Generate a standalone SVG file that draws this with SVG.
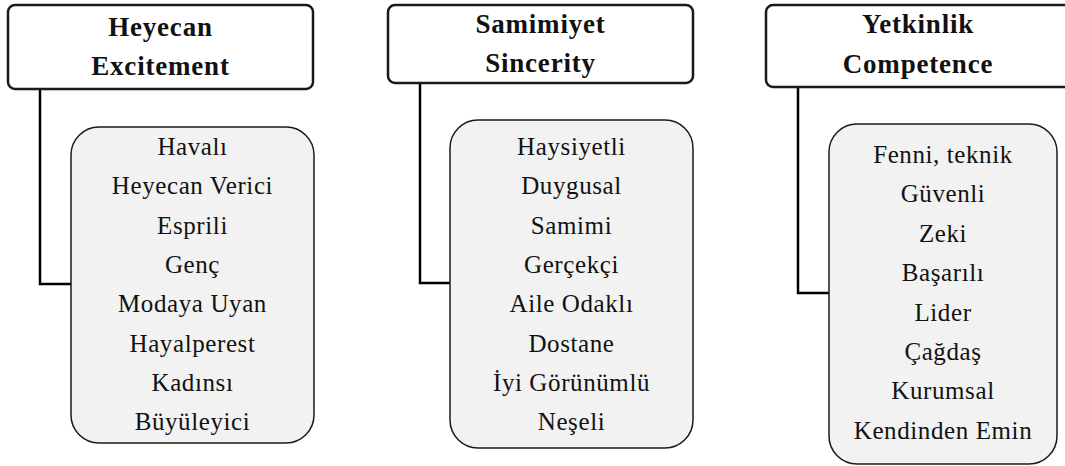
<svg xmlns="http://www.w3.org/2000/svg" width="1065" height="466" viewBox="0 0 1065 466">
<style>
.hdr{fill:#fff;stroke:#1a1a1a;stroke-width:2.5}
.lst{fill:#f2f2f2;stroke:#1a1a1a;stroke-width:1.5}
.conn{fill:none;stroke:#000;stroke-width:2.5}
.ht{font-weight:bold;font-size:27px;fill:#111;text-anchor:middle;letter-spacing:0.8px}
.lt{font-size:25px;fill:#111;text-anchor:middle;letter-spacing:0.6px}
</style>
<rect width="1065" height="466" fill="#fff"/>
<g id="connectors">
<path class="conn" d="M40 89 V284 H71"/>
<path class="conn" d="M420 83 V283 H450"/>
<path class="conn" d="M798 87 V293 H829"/>
</g>
<g font-family="'Liberation Serif', Tinos, 'Times New Roman', 'DejaVu Serif', serif">
<g id="excitement">
<rect class="hdr" x="8" y="5" width="305" height="84" rx="7"/>
<text class="ht" x="160.5" y="36">Heyecan</text>
<text class="ht" x="160.5" y="75">Excitement</text>
</g>
<g id="excitement-list">
<rect class="lst" x="71" y="127" width="243" height="316" rx="28"/>
<text class="lt" x="192.5" y="155">Havalı</text>
<text class="lt" x="192.5" y="194.3">Heyecan Verici</text>
<text class="lt" x="192.5" y="233.6">Esprili</text>
<text class="lt" x="192.5" y="272.9">Genç</text>
<text class="lt" x="192.5" y="312.2">Modaya Uyan</text>
<text class="lt" x="192.5" y="351.5">Hayalperest</text>
<text class="lt" x="192.5" y="390.8">Kadınsı</text>
<text class="lt" x="192.5" y="430.1">Büyüleyici</text>
</g>
<g id="sincerity">
<rect class="hdr" x="388" y="5" width="305" height="78" rx="7"/>
<text class="ht" x="540.5" y="33">Samimiyet</text>
<text class="ht" x="540.5" y="72">Sincerity</text>
</g>
<g id="sincerity-list">
<rect class="lst" x="450" y="120" width="243" height="328" rx="28"/>
<text class="lt" x="571.5" y="155">Haysiyetli</text>
<text class="lt" x="571.5" y="194.3">Duygusal</text>
<text class="lt" x="571.5" y="233.6">Samimi</text>
<text class="lt" x="571.5" y="272.9">Gerçekçi</text>
<text class="lt" x="571.5" y="312.2">Aile Odaklı</text>
<text class="lt" x="571.5" y="351.5">Dostane</text>
<text class="lt" x="571.5" y="390.8">İyi Görünümlü</text>
<text class="lt" x="571.5" y="430.1">Neşeli</text>
</g>
<g id="competence">
<rect class="hdr" x="766" y="5" width="305" height="82" rx="7"/>
<text class="ht" x="918" y="33">Yetkinlik</text>
<text class="ht" x="918" y="73">Competence</text>
</g>
<g id="competence-list">
<rect class="lst" x="829" y="124" width="228" height="340" rx="28"/>
<text class="lt" x="943" y="163">Fenni, teknik</text>
<text class="lt" x="943" y="202.4">Güvenli</text>
<text class="lt" x="943" y="241.8">Zeki</text>
<text class="lt" x="943" y="281.2">Başarılı</text>
<text class="lt" x="943" y="320.6">Lider</text>
<text class="lt" x="943" y="360">Çağdaş</text>
<text class="lt" x="943" y="399.4">Kurumsal</text>
<text class="lt" x="943" y="438.8">Kendinden Emin</text>
</g>
</g>
</svg>
